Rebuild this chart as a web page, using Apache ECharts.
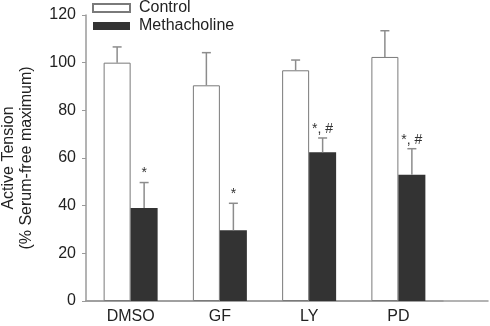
<!DOCTYPE html>
<html>
<head>
<meta charset="utf-8">
<script src="https://cdn.jsdelivr.net/npm/echarts@6/dist/echarts.min.js"></script>
<style>
  html, body { margin: 0; padding: 0; background: #fff; }
  #chart { width: 490px; height: 326px; }
</style>
</head>
<body>
<div id="chart"></div>
<script>
// data
const categories = ["DMSO", "GF", "LY", "PD"];
const controlMean = [100, 90.5, 96.8, 102.4];
const controlUpper = [106.6, 104.2, 101.1, 113.4];
const methMean = [39, 29.7, 62.4, 53];
const methUpper = [49.7, 41, 68.4, 63.9];
const methMarks = ["*", "*", "*, #", "*, #"];
const yMin = 0, yMax = 120, yStep = 20;

const barW = 27;
const font = "Liberation Sans, Arial, Helvetica, sans-serif";
const errColor = "#8c8c8c";
const axisColor = "#9a9a9a";

// error bar + significance mark, drawn at the bar's centre
function errorBars(shift, marks) {
  return function (params, api) {
    const i = api.value(0);
    const base = api.coord([i, api.value(1)]);
    const top = api.coord([i, api.value(2)]);
    const x = base[0] + shift;
    const children = [
      { type: "line", shape: { x1: x, y1: base[1], x2: x, y2: top[1] },
        style: { stroke: errColor, lineWidth: 1.5 } },
      { type: "line", shape: { x1: x - 4.5, y1: top[1], x2: x + 4.5, y2: top[1] },
        style: { stroke: errColor, lineWidth: 1.5 } }
    ];
    if (marks) {
      children.push({
        type: "text", x: x, y: top[1] - 2,
        style: { text: marks[i], fill: "#333", font: "14px " + font, align: "center", verticalAlign: "bottom" }
      });
    }
    return { type: "group", children: children };
  };
}

const chart = echarts.init(document.getElementById("chart"));
chart.setOption({
  animation: false,
  backgroundColor: "#fff",
  legend: {
    orient: "vertical",
    left: 92,
    top: 0,
    padding: 0,
    itemWidth: 37,
    itemHeight: 8,
    itemGap: 2,
    icon: "rect",
    textStyle: { fontFamily: font, fontSize: 16, color: "#222", padding: [0, 0, 0, 4] },
    data: ["Control", "Methacholine"]
  },
  grid: [
    { left: 86, right: 47, top: 15, bottom: 25, outerBoundsMode: "none" },
    { left: 86, right: 2, top: 15, bottom: 25, outerBoundsMode: "none" }
  ],
  xAxis: [
    {
      type: "category",
      gridIndex: 0,
      data: categories,
      axisLine: { lineStyle: { color: axisColor, width: 1.5 } },
      axisTick: { alignWithLabel: true, length: 4, lineStyle: { color: axisColor } },
      axisLabel: { fontFamily: font, fontSize: 16, color: "#222", margin: 8 }
    },
    {
      type: "value",
      gridIndex: 1,
      axisLine: { show: true, lineStyle: { color: axisColor, width: 1.5 } },
      axisTick: { show: false },
      axisLabel: { show: false },
      splitLine: { show: false }
    }
  ],
  yAxis: [
    {
      type: "value",
      gridIndex: 0,
      min: yMin,
      max: yMax,
      interval: yStep,
      name: "Active Tension\n(% Serum-free maximum)",
      nameLocation: "middle",
      nameRotate: 90,
      nameGap: 50,
      nameTextStyle: { fontFamily: font, fontSize: 16, color: "#222", lineHeight: 18 },
      axisLine: { show: true, lineStyle: { color: axisColor, width: 1.5 } },
      axisTick: { show: true, length: 4, lineStyle: { color: axisColor } },
      axisLabel: { fontFamily: font, fontSize: 16, color: "#222", margin: 10 },
      splitLine: { show: false }
    },
    { type: "value", gridIndex: 1, show: false }
  ],
  series: [
    {
      name: "Control",
      type: "bar",
      barWidth: barW,
      barGap: "0%",
      data: controlMean,
      itemStyle: { color: "#fff", borderColor: "#7a7a7a", borderWidth: 1 }
    },
    {
      name: "Methacholine",
      type: "bar",
      barWidth: barW,
      barGap: "0%",
      data: methMean,
      itemStyle: { color: "#333333" }
    },
    {
      type: "custom",
      renderItem: errorBars(-barW / 2, null),
      data: controlMean.map((v, i) => [i, v, controlUpper[i]]),
      z: 5
    },
    {
      type: "custom",
      renderItem: errorBars(barW / 2, methMarks),
      data: methMean.map((v, i) => [i, v, methUpper[i]]),
      z: 5
    }
  ]
});
</script>
</body>
</html>
